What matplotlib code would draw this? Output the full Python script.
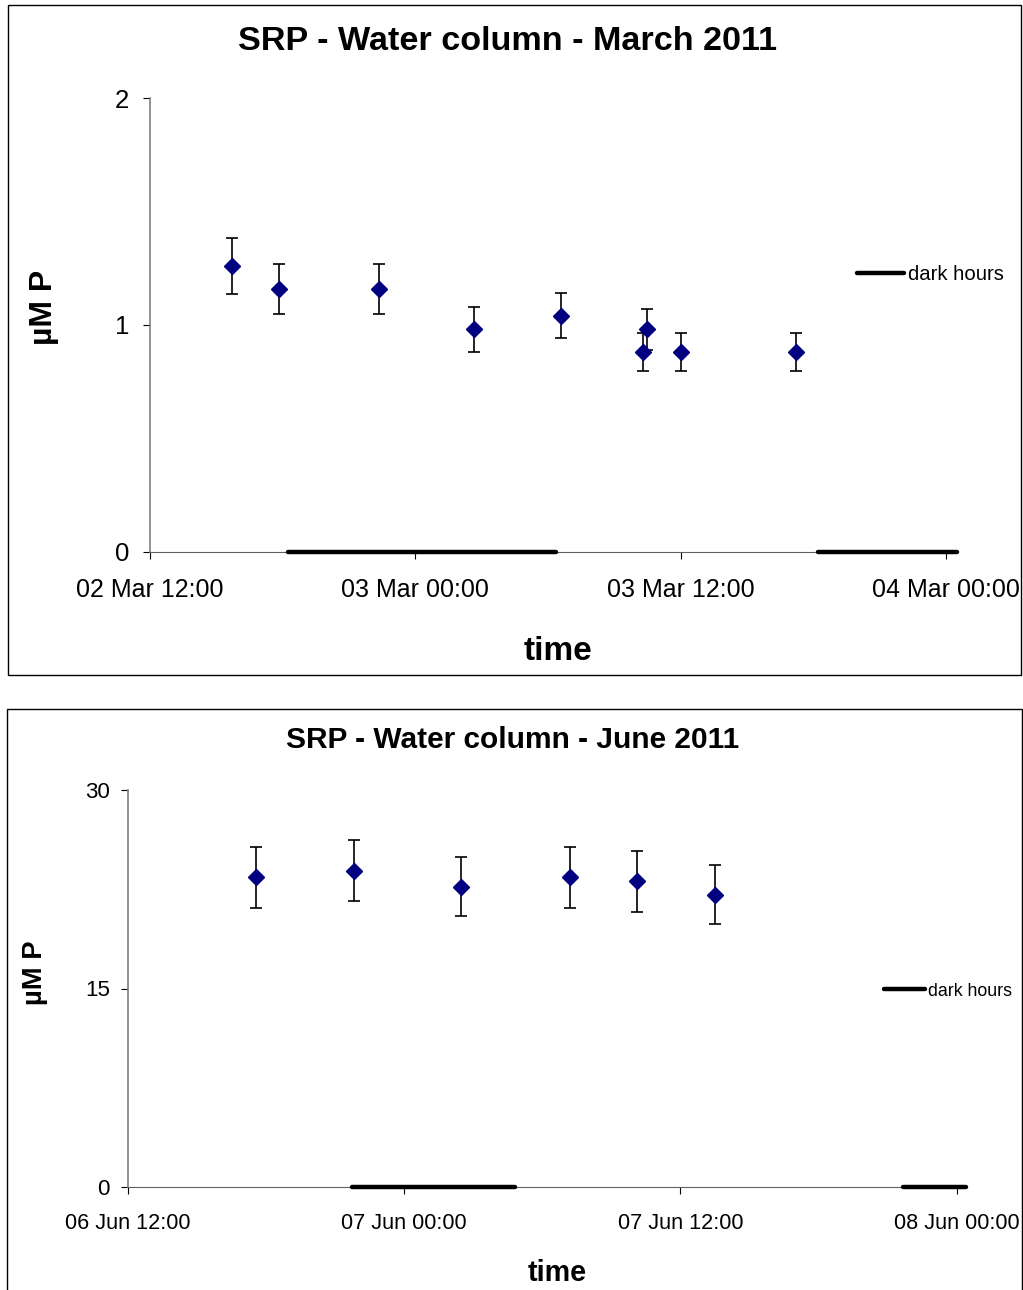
import matplotlib
matplotlib.use("Agg")
import matplotlib.pyplot as plt
import matplotlib.dates as mdates
from matplotlib.patches import Rectangle
import pandas as pd

plt.rcParams['font.family'] = ['Liberation Sans', 'DejaVu Sans']

# March 2011
times_mar = ["2011-03-02 15:42", "2011-03-02 17:51", "2011-03-02 22:21", "2011-03-03 02:39",
             "2011-03-03 06:36", "2011-03-03 10:18", "2011-03-03 10:28", "2011-03-03 12:00",
             "2011-03-03 17:12"]
srp_mar = [1.26, 1.16, 1.16, 0.98, 1.04, 0.88, 0.98, 0.88, 0.88]
err_mar = [0.125, 0.11, 0.11, 0.10, 0.10, 0.085, 0.09, 0.085, 0.085]
dark_mar = [("2011-03-02 18:15", "2011-03-03 06:23"), ("2011-03-03 18:13", "2011-03-04 00:30")]
xlim_mar = ("2011-03-02 12:00", "2011-03-04 00:00")
yticks_mar = [0, 1, 2]

# June 2011
times_jun = ["2011-06-06 17:33", "2011-06-06 21:49", "2011-06-07 02:28", "2011-06-07 07:11",
             "2011-06-07 10:06", "2011-06-07 13:30"]
srp_jun = [23.4, 23.9, 22.7, 23.4, 23.1, 22.1]
err_jun = [2.3, 2.3, 2.2, 2.3, 2.3, 2.2]
dark_jun = [("2011-06-06 21:45", "2011-06-07 04:50"), ("2011-06-07 21:39", "2011-06-08 00:23")]
xlim_jun = ("2011-06-06 12:00", "2011-06-08 00:00")
yticks_jun = [0, 15, 30]

W, H = 1023, 1290
fig = plt.figure(figsize=(W / 100, H / 100), dpi=100)


def fx(x):
    return x / W


def fy(y):
    return 1 - y / H


def panel(box, rect, title, title_x, title_y, times, vals, errs, dark, xlim, yticks,
          fs_tick, fs_title, fs_lab, fs_leg, ylab_x, ylab_y, xlab_x, xlab_y, leg_x, leg_y, ypad):
    # frame around the chart
    x0, y0, x1, y1 = box
    fig.patches.append(Rectangle((fx(x0), fy(y1)), fx(x1) - fx(x0), fy(y0) - fy(y1),
                                 transform=fig.transFigure, fill=False, ec='black', lw=1.0))
    l, t, r, b = rect
    ax = fig.add_axes([fx(l), fy(b), fx(r) - fx(l), fy(t) - fy(b)])
    x = pd.to_datetime(times)
    ax.errorbar(x, vals, yerr=errs, fmt='D', color='#000080', mec='#000080', ms=8.4,
                ecolor='black', elinewidth=1.2, capsize=4.6, capthick=1.2, zorder=3)
    for i, (s, e) in enumerate(dark):
        ax.plot(pd.to_datetime([s, e]), [0, 0], color='black', lw=3.2,
                solid_capstyle='round', clip_on=False, zorder=4,
                label='dark hours' if i == 0 else None)
    ax.set_xlim(pd.to_datetime(xlim[0]), pd.to_datetime(xlim[1]))
    ax.set_ylim(yticks[0], yticks[-1])
    ax.set_yticks(yticks)
    ax.xaxis.set_major_locator(mdates.HourLocator(byhour=[0, 12]))
    ax.xaxis.set_major_formatter(mdates.DateFormatter('%d %b %H:%M'))
    for sp in ['top', 'right']:
        ax.spines[sp].set_visible(False)
    ax.spines['left'].set_color('#808080')
    ax.spines['bottom'].set_color('#606060')
    ax.spines['left'].set_linewidth(1.2)
    ax.tick_params(axis='x', direction='out', length=5, width=0.8, labelsize=fs_tick, pad=14)
    ax.tick_params(axis='y', direction='out', length=5, width=0.8, labelsize=fs_tick + 0.5, pad=ypad)
    fig.text(fx(title_x), fy(title_y), title, ha='center', va='baseline',
             fontsize=fs_title, fontweight='bold')
    fig.text(fx(xlab_x), fy(xlab_y), 'time', ha='center', va='baseline',
             fontsize=fs_lab, fontweight='bold')
    fig.text(fx(ylab_x), fy(ylab_y), 'µM P', ha='center', va='center', rotation=90,
             fontsize=fs_lab - 1, fontweight='bold')
    ax.legend(loc='center left', bbox_to_anchor=(fx(leg_x), fy(leg_y)),
              bbox_transform=fig.transFigure, frameon=False, fontsize=fs_leg,
              handlelength=2.3, handletextpad=0.2, borderpad=0, borderaxespad=0)
    return ax


panel((8, 5, 1021, 675), (150, 98, 946, 551.7), 'SRP - Water column - March 2011', 508, 50,
      times_mar, srp_mar, err_mar, dark_mar, xlim_mar, yticks_mar,
      18, 24.6, 24, 14.6, 44, 307, 558, 660, 857, 275, 10)

panel((7, 709, 1022, 1300), (128, 790, 956.7, 1187), 'SRP - Water column - June 2011', 513, 748,
      times_jun, srp_jun, err_jun, dark_jun, xlim_jun, yticks_jun,
      15.6, 21.5, 20.7, 12.8, 35, 973, 557, 1281, 884, 991, 8)

fig.savefig('out.png', dpi=100)
